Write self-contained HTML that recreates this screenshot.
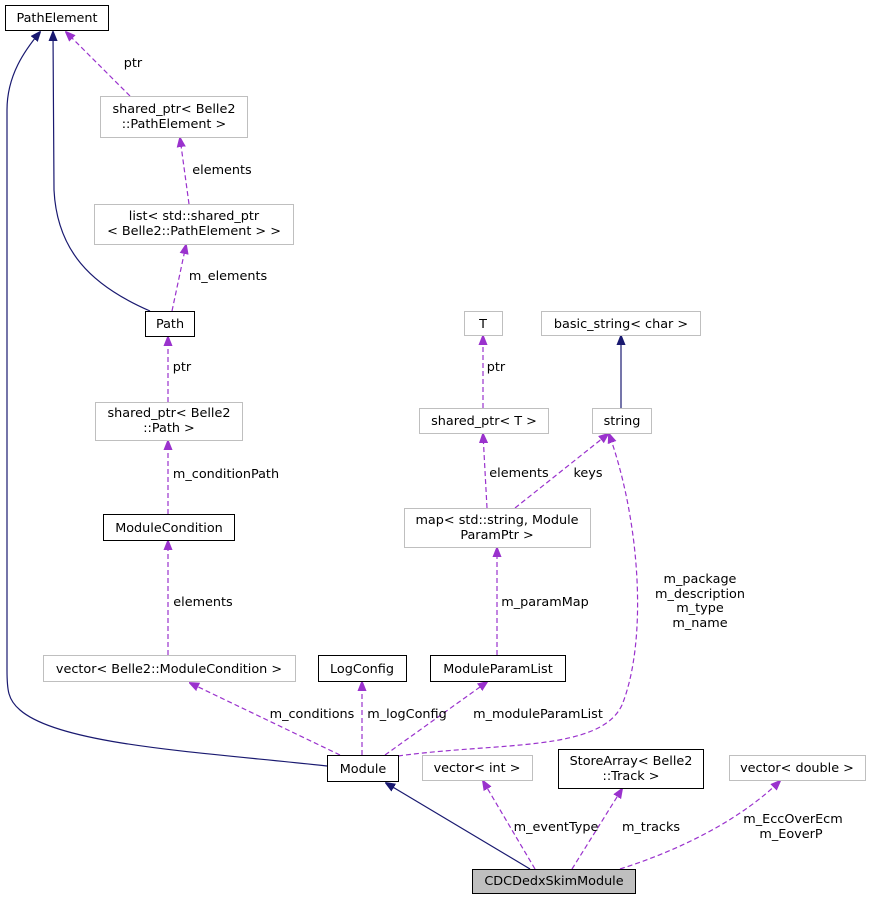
<!DOCTYPE html>
<html><head><meta charset="utf-8"><style>
html,body{margin:0;padding:0;background:#fff;}
svg text{font-family:"DejaVu Sans","Liberation Sans",sans-serif;font-size:12.8px;fill:#000;}
</style></head><body>
<svg width="872" height="899" viewBox="0 0 872 899" xmlns="http://www.w3.org/2000/svg">
<defs>
<marker id="an" markerWidth="10" markerHeight="10" refX="9" refY="5" orient="auto" markerUnits="userSpaceOnUse"><path d="M0,1 L10,5 L0,9 Z" fill="#191970" stroke="#191970"/></marker>
<marker id="ap" markerWidth="10" markerHeight="10" refX="9" refY="5" orient="auto" markerUnits="userSpaceOnUse"><path d="M0,1 L10,5 L0,9 Z" fill="#9a32cd" stroke="#9a32cd"/></marker>
</defs>
<g fill="none" stroke="#191970" stroke-width="1.2">
<path d="M327,766 C200,752 60,745 20,710 C8,700 7,690 7,670 L7,110 C7,75 25,50 40,32" marker-end="url(#an)"/>
<path d="M150,311 C90,285 57,250 54,190 L53,32" marker-end="url(#an)"/>
<path d="M621,408 L621,336" marker-end="url(#an)"/>
<path d="M530,869 L386,783" marker-end="url(#an)"/>
</g>
<g fill="none" stroke="#9a32cd" stroke-width="1.2" stroke-dasharray="5,3">
<path d="M130,96 L66,32" marker-end="url(#ap)"/>
<path d="M189,204 L180,138" marker-end="url(#ap)"/>
<path d="M172,311 L186,245" marker-end="url(#ap)"/>
<path d="M168,402 L168,337" marker-end="url(#ap)"/>
<path d="M168,514 L168,441" marker-end="url(#ap)"/>
<path d="M168,655 L168,541" marker-end="url(#ap)"/>
<path d="M340,755 L190,683" marker-end="url(#ap)"/>
<path d="M362,755 L362,682" marker-end="url(#ap)"/>
<path d="M385,755 L487,682" marker-end="url(#ap)"/>
<path d="M398,756 C500,742 600,752 622,705 C648,640 640,520 609,434" marker-end="url(#ap)"/>
<path d="M497,655 L497,548" marker-end="url(#ap)"/>
<path d="M487,508 L483,434" marker-end="url(#ap)"/>
<path d="M515,508 L608,434" marker-end="url(#ap)"/>
<path d="M483,408 L483,336" marker-end="url(#ap)"/>
<path d="M535,869 L483,781" marker-end="url(#ap)"/>
<path d="M572,869 L622,789" marker-end="url(#ap)"/>
<path d="M620,869 C680,850 740,820 780,781" marker-end="url(#ap)"/>
</g>
<g stroke-width="1">
<rect x="5.5" y="5.5" width="103" height="25" fill="#fff" stroke="#000"/>
<rect x="100.5" y="96.5" width="147" height="41" fill="#fff" stroke="#bfbfbf"/>
<rect x="94.5" y="204.5" width="199" height="40" fill="#fff" stroke="#bfbfbf"/>
<rect x="145.5" y="311.5" width="49" height="25" fill="#fff" stroke="#000"/>
<rect x="95.5" y="402.5" width="147" height="38" fill="#fff" stroke="#bfbfbf"/>
<rect x="103.5" y="514.5" width="131" height="26" fill="#fff" stroke="#000"/>
<rect x="43.5" y="655.5" width="252" height="26" fill="#fff" stroke="#bfbfbf"/>
<rect x="318.5" y="655.5" width="88" height="26" fill="#fff" stroke="#000"/>
<rect x="430.5" y="655.5" width="135" height="26" fill="#fff" stroke="#000"/>
<rect x="327.5" y="755.5" width="71" height="26" fill="#fff" stroke="#000"/>
<rect x="464.5" y="311.5" width="38" height="24" fill="#fff" stroke="#bfbfbf"/>
<rect x="541.5" y="311.5" width="159" height="24" fill="#fff" stroke="#bfbfbf"/>
<rect x="419.5" y="408.5" width="129" height="25" fill="#fff" stroke="#bfbfbf"/>
<rect x="592.5" y="408.5" width="59" height="25" fill="#fff" stroke="#bfbfbf"/>
<rect x="404.5" y="508.5" width="186" height="39" fill="#fff" stroke="#bfbfbf"/>
<rect x="422.5" y="755.5" width="110" height="25" fill="#fff" stroke="#bfbfbf"/>
<rect x="558.5" y="749.5" width="145" height="39" fill="#fff" stroke="#000"/>
<rect x="729.5" y="755.5" width="136" height="25" fill="#fff" stroke="#bfbfbf"/>
<rect x="472.5" y="869.5" width="163" height="24" fill="#bfbfbf" stroke="#000"/>
</g>
<g text-anchor="middle">
<text x="57" y="22">PathElement</text>
<text x="174" y="113">shared_ptr&lt; Belle2</text>
<text x="174" y="128">::PathElement &gt;</text>
<text x="194" y="220">list&lt; std::shared_ptr</text>
<text x="194" y="235">&lt; Belle2::PathElement &gt; &gt;</text>
<text x="170" y="328">Path</text>
<text x="169" y="417">shared_ptr&lt; Belle2</text>
<text x="169" y="432">::Path &gt;</text>
<text x="169" y="532">ModuleCondition</text>
<text x="169" y="673">vector&lt; Belle2::ModuleCondition &gt;</text>
<text x="362" y="673">LogConfig</text>
<text x="498" y="673">ModuleParamList</text>
<text x="363" y="773">Module</text>
<text x="483" y="328">T</text>
<text x="621" y="328">basic_string&lt; char &gt;</text>
<text x="484" y="425">shared_ptr&lt; T &gt;</text>
<text x="622" y="425">string</text>
<text x="497" y="524">map&lt; std::string, Module</text>
<text x="497" y="539">ParamPtr &gt;</text>
<text x="477" y="772">vector&lt; int &gt;</text>
<text x="631" y="765">StoreArray&lt; Belle2</text>
<text x="631" y="780">::Track &gt;</text>
<text x="797" y="772">vector&lt; double &gt;</text>
<text x="554" y="885">CDCDedxSkimModule</text>
<text x="133" y="67">ptr</text>
<text x="222" y="174">elements</text>
<text x="228" y="280">m_elements</text>
<text x="182" y="371">ptr</text>
<text x="226" y="478">m_conditionPath</text>
<text x="203" y="606">elements</text>
<text x="312" y="718">m_conditions</text>
<text x="407" y="718">m_logConfig</text>
<text x="538" y="718">m_moduleParamList</text>
<text x="700" y="583">m_package</text>
<text x="700" y="598">m_description</text>
<text x="700" y="612">m_type</text>
<text x="700" y="627">m_name</text>
<text x="545" y="606">m_paramMap</text>
<text x="519" y="477">elements</text>
<text x="588" y="477">keys</text>
<text x="496" y="371">ptr</text>
<text x="556" y="831">m_eventType</text>
<text x="651" y="831">m_tracks</text>
<text x="793" y="823">m_EccOverEcm</text>
<text x="791" y="838">m_EoverP</text>
</g>
</svg>
</body></html>
